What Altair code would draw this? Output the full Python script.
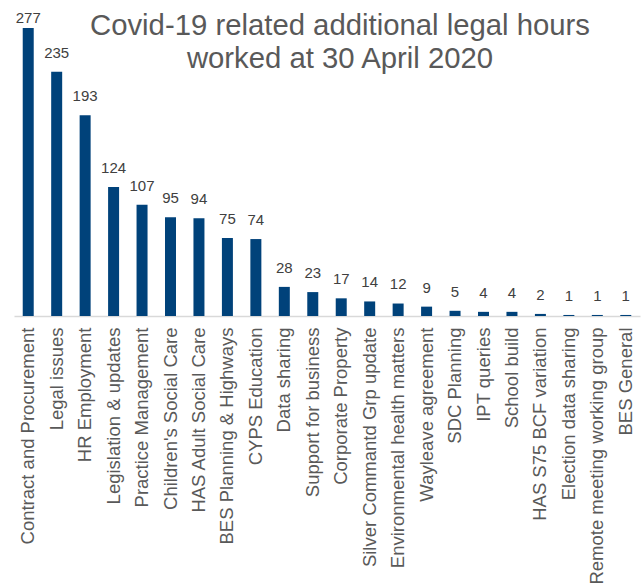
import altair as alt
import pandas as pd

categories = [
    "Contract and Procurement", "Legal issues", "HR Employment", "Legislation & updates",
    "Practice Management", "Children's Social Care", "HAS Adult Social Care",
    "BES Planning & Highways", "CYPS Education", "Data sharing", "Support for business",
    "Corporate Property", "Silver Commantd Grp update", "Environmental health matters",
    "Wayleave agreement", "SDC Planning", "IPT queries", "School build",
    "HAS S75 BCF variation", "Election data sharing", "Remote meeting working group",
    "BES General",
]
hours = [277, 235, 193, 124, 107, 95, 94, 75, 74, 28, 23, 17, 14, 12, 9, 5, 4, 4, 2, 1, 1, 1]

df = pd.DataFrame({"category": categories, "hours": hours})

FONT = "Liberation Sans"

x = alt.X("category:N", sort=categories, title=None,
          scale=alt.Scale(paddingInner=0.6, paddingOuter=0.3),
          axis=alt.Axis(labelAngle=-90, labelFontSize=18.5, labelColor="#595959",
                        labelFont=FONT, ticks=False, domainColor="#D9D9D9",
                        domainWidth=1.5, labelPadding=11, labelLimit=300))
yscale = alt.Scale(domain=[0, 277], nice=False)
y = alt.Y("hours:Q", scale=yscale, axis=None)

bars = alt.Chart(df).mark_bar(color="#00427A", size=11).encode(x=x, y=y)
labels = alt.Chart(df).transform_calculate(
    label_y="min(datum.hours + 13.5, 281.8)"
).mark_text(baseline="alphabetic", fontSize=15, color="#404040", font=FONT).encode(
    x=x, y=alt.Y("label_y:Q", scale=yscale, axis=None), text="hours:Q")

chart = (bars + labels).properties(
    width=626, height=288,
    padding={"left": 14, "top": 28, "right": 4, "bottom": 271},
    autosize=alt.AutoSizeParams(type="none"),
    title=alt.TitleParams(
        text=["Covid-19 related additional legal hours", "worked at 30 April 2020"],
        fontSize=29.3, font=FONT, color="#595959", fontWeight="normal",
        anchor="middle", baseline="top", lineHeight=33, dx=13, offset=-63,
    ),
).configure_view(stroke=None)

chart.save("out.html", embed_options={"renderer": "svg", "actions": False})
